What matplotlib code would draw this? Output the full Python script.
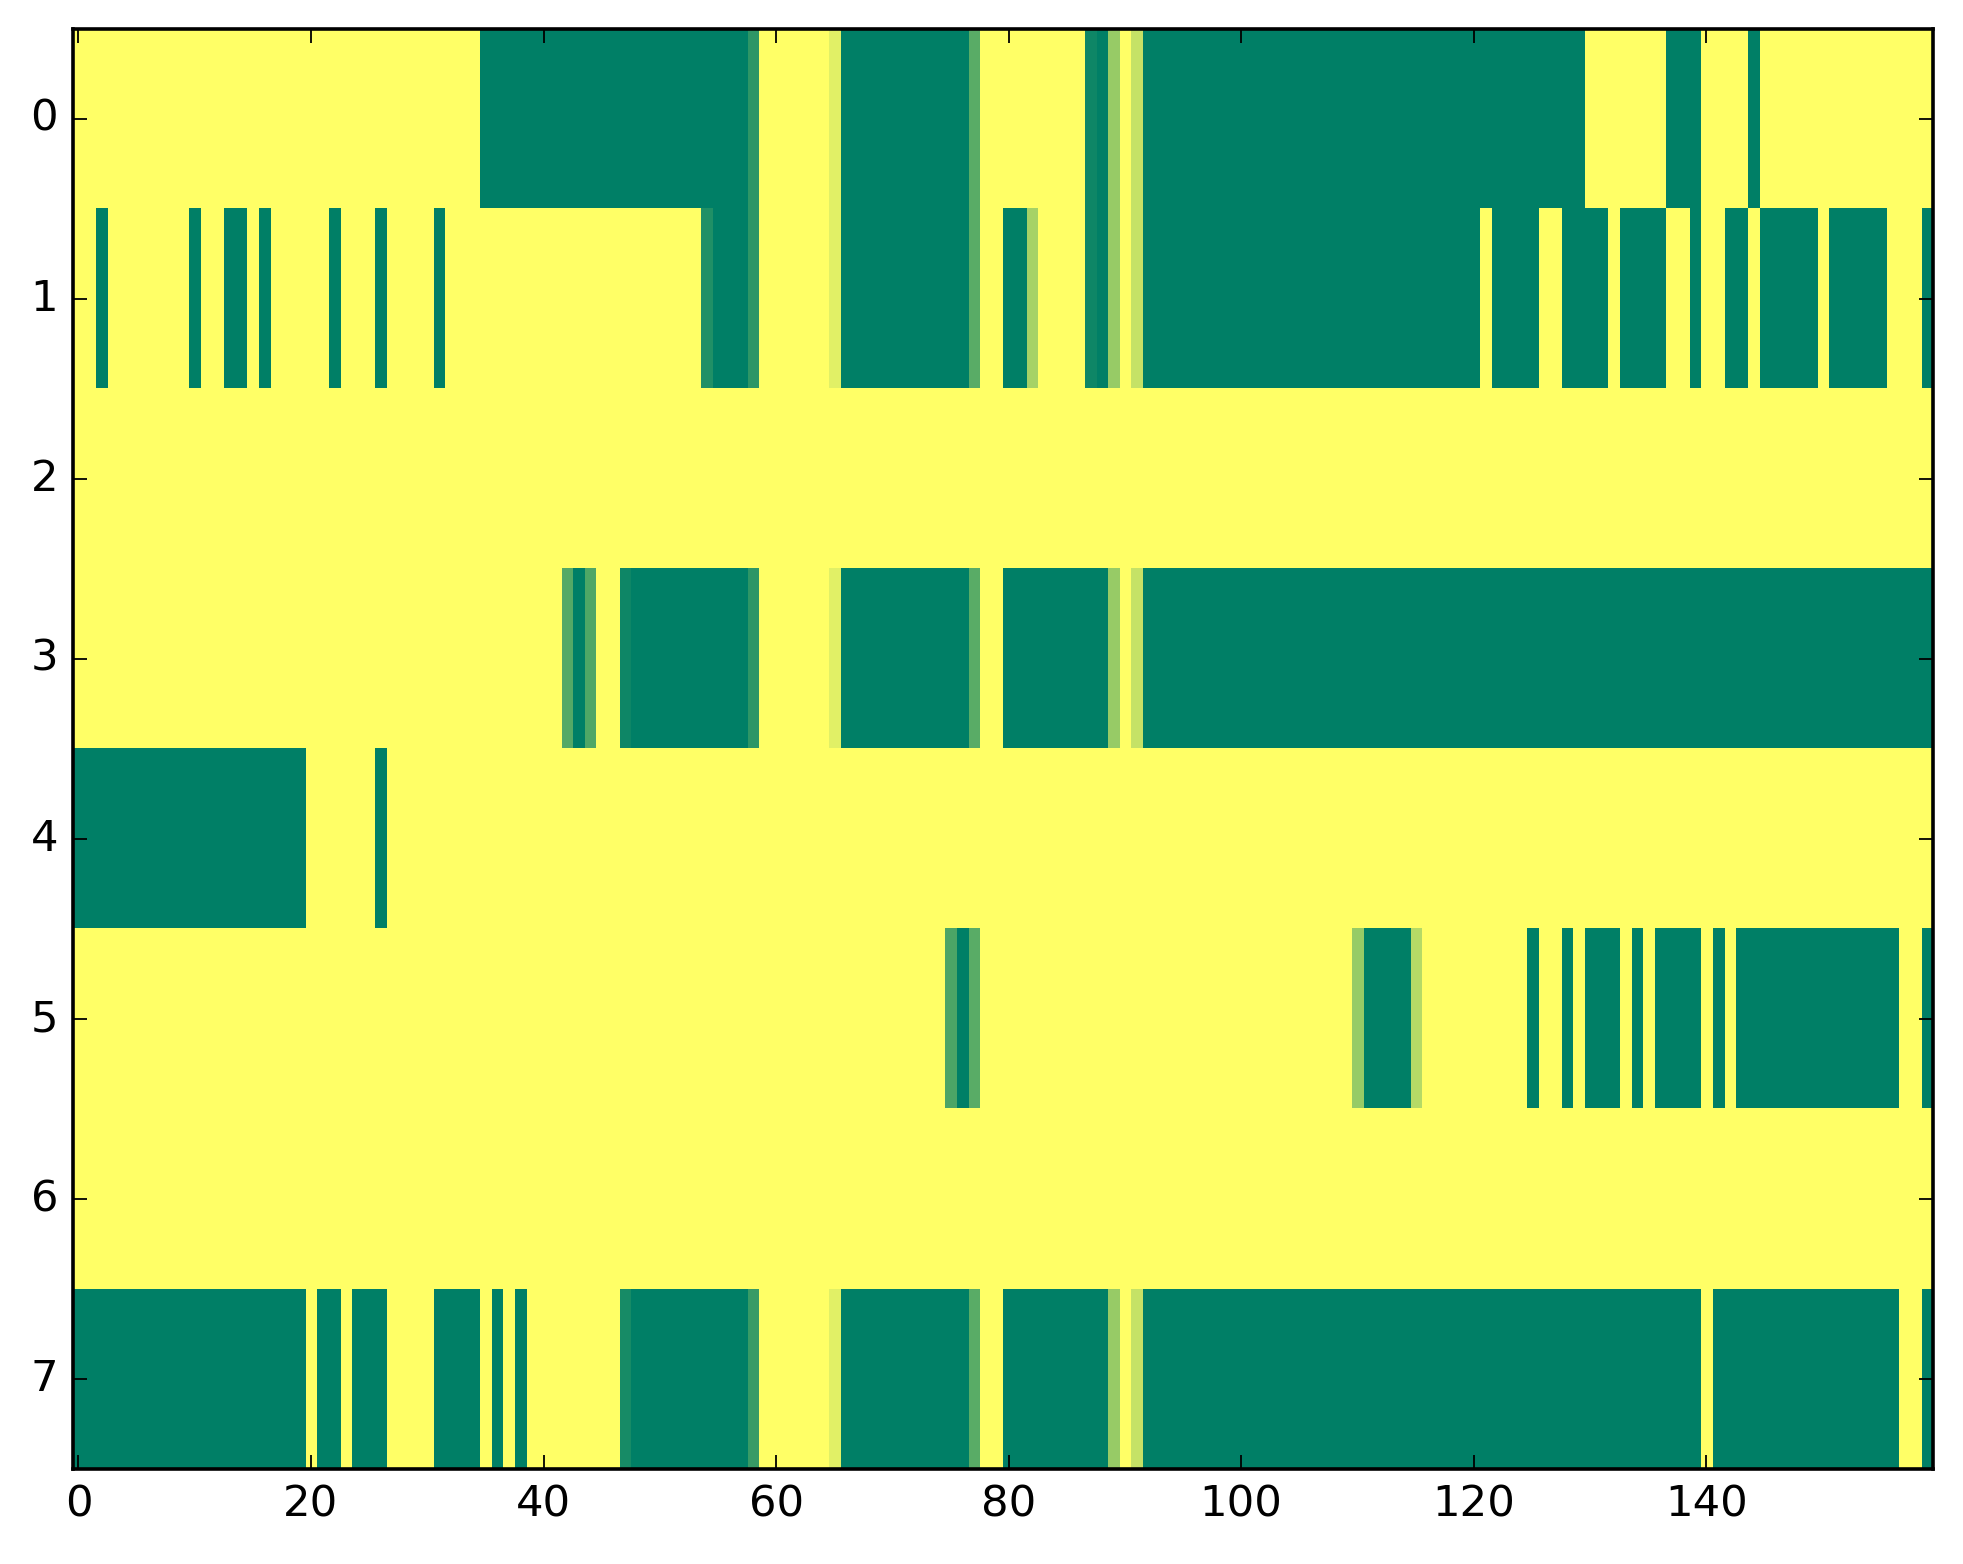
import numpy as np
import matplotlib
matplotlib.use("Agg")
import matplotlib.pyplot as plt

plt.style.use("classic")

n_rows = 8
n_cols = 160

# dark (value 0) column spans per row, inclusive
dark_spans = {
    0: [(35, 57), (66, 76), (88, 88), (92, 129), (137, 139), (144, 144)],
    1: [(2, 2), (10, 10), (13, 14), (16, 16), (22, 22), (26, 26), (31, 31),
        (55, 57), (66, 76), (80, 81), (88, 88), (92, 120), (122, 125),
        (128, 131), (133, 136), (139, 139), (142, 143), (145, 149),
        (151, 155), (159, 159)],
    2: [],
    3: [(43, 43), (48, 57), (66, 76), (80, 88), (92, 159)],
    4: [(0, 19), (26, 26)],
    5: [(76, 76), (111, 114), (125, 125), (128, 128), (130, 132), (134, 134),
        (136, 139), (141, 141), (143, 156), (159, 159)],
    6: [],
    7: [(0, 19), (21, 22), (24, 26), (31, 34), (36, 36), (38, 38), (48, 57),
        (66, 76), (80, 88), (92, 139), (141, 156), (159, 159)],
}

# in-between values (row, col): value
partial = {
    (0, 58): 0.18, (0, 65): 0.88, (0, 77): 0.35, (0, 87): 0.055,
    (0, 89): 0.59, (0, 91): 0.77,
    (1, 54): 0.13, (1, 58): 0.18, (1, 65): 0.88, (1, 77): 0.35,
    (1, 82): 0.65, (1, 87): 0.055, (1, 89): 0.59, (1, 91): 0.77,
    (3, 42): 0.33, (3, 44): 0.31, (3, 47): 0.055, (3, 58): 0.18,
    (3, 65): 0.88, (3, 77): 0.35, (3, 89): 0.59, (3, 91): 0.77,
    (5, 75): 0.30, (5, 77): 0.35, (5, 110): 0.59, (5, 115): 0.71,
    (7, 47): 0.09, (7, 58): 0.22, (7, 65): 0.88, (7, 77): 0.35,
    (7, 89): 0.59, (7, 91): 0.77,
}

grid = np.ones((n_rows, n_cols))
for r, spans in dark_spans.items():
    for a, b in spans:
        grid[r, a:b + 1] = 0.0
for (r, c), v in partial.items():
    grid[r, c] = v

fig = plt.figure(figsize=(1963 / 260, 1564 / 260), dpi=260)
ax = fig.add_axes([0.0370, 0.0607, 0.9477, 0.9208])
ax.imshow(grid, cmap="summer", vmin=0, vmax=1, aspect="auto",
          interpolation="nearest")
ax.set_xticks(np.arange(0, 160, 20))
ax.set_yticks(np.arange(0, 8))
ax.set_xlim(-0.5, 159.5)
ax.set_ylim(7.5, -0.5)

fig.savefig("out.png", dpi=260)
